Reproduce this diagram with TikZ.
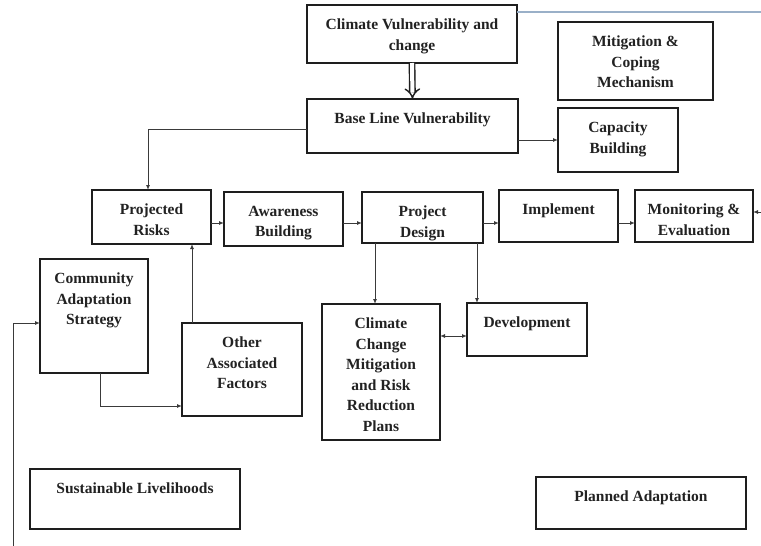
\documentclass[tikz,border=0pt]{standalone}
\usepackage{fontspec}
\setmainfont{Liberation Serif}
\usetikzlibrary{arrows.meta,fit}
\definecolor{boxcol}{HTML}{1E1E1E}
\definecolor{concol}{HTML}{3A3A3A}
\definecolor{txtcol}{HTML}{222222}
\definecolor{bluecol}{HTML}{9AB0C8}
\begin{document}
\begin{tikzpicture}[x=1pt,y=-1pt,
  box/.style={draw=boxcol, line width=2.6pt, inner sep=0pt, outer sep=0pt},
  lbl/.style={anchor=north, align=center, inner sep=0pt, text=txtcol, font=\bfseries\fontsize{15.5}{20.5}\selectfont},
  conn/.style={draw=concol, line width=1pt, -{Latex[length=5pt,width=4pt]}},
  bothconn/.style={draw=concol, line width=1pt, {Latex[length=5pt,width=4pt]}-{Latex[length=5pt,width=4pt]}},
  dblarrow/.style={draw=boxcol, line width=1.4pt, double=white, double distance=4pt, -{Implies}},
  blueline/.style={draw=bluecol, line width=1.5pt},
]
\fill[white] (0,0) rectangle (761,546);
\useasboundingbox (0,0) rectangle (761,546);

% boxes
\node[box, fit={(307,5) (517,63)}] (clim) {};
\node[box, fit={(558,22) (713,100)}] (mitig) {};
\node[box, fit={(307,99) (518,153)}] (base) {};
\node[box, fit={(558,108) (678,172)}] (cap) {};
\node[box, fit={(92,190) (211,244)}] (proj) {};
\node[box, fit={(224,192) (343,246)}] (aware) {};
\node[box, fit={(362,192) (483,243)}] (design) {};
\node[box, fit={(499,190) (618,242)}] (impl) {};
\node[box, fit={(635,190) (753,242)}] (monit) {};
\node[box, fit={(40,259) (148,373)}] (comm) {};
\node[box, fit={(182,323) (302,416)}] (other) {};
\node[box, fit={(322,304) (440,440)}] (ccm) {};
\node[box, fit={(467,303) (587,356)}] (dev) {};
\node[box, fit={(30,469) (240,529)}] (sust) {};
\node[box, fit={(536,477) (746,529)}] (plan) {};

% texts
\node[lbl] (climt) at ([yshift=-14pt]clim.north) {Climate Vulnerability and\\change};
\node[lbl] (mitigt) at ([yshift=-14pt]mitig.north) {Mitigation \&\\Coping\\Mechanism};
\node[lbl] (baset) at ([yshift=-14pt]base.north) {Base Line Vulnerability};
\node[lbl] (capt) at ([yshift=-14pt]cap.north) {Capacity\\Building};
\node[lbl] (projt) at ([yshift=-14pt]proj.north) {Projected\\Risks};
\node[lbl] (awaret) at ([yshift=-14pt]aware.north) {Awareness\\Building};
\node[lbl] (designt) at ([yshift=-14pt]design.north) {Project\\Design};
\node[lbl] (implt) at ([yshift=-14pt]impl.north) {Implement};
\node[lbl] (monitt) at ([yshift=-14pt]monit.north) {Monitoring \&\\Evaluation};
\node[lbl] (commt) at ([yshift=-14pt]comm.north) {Community\\Adaptation\\Strategy};
\node[lbl] (othert) at ([yshift=-14pt]other.north) {Other\\Associated\\Factors};
\node[lbl] (ccmt) at ([yshift=-14pt]ccm.north) {Climate\\Change\\Mitigation\\and Risk\\Reduction\\Plans};
\node[lbl] (devt) at ([yshift=-14pt]dev.north) {Development};
\node[lbl] (sustt) at ([yshift=-14pt]sust.north) {Sustainable Livelihoods};
\node[lbl] (plant) at ([yshift=-14pt]plan.north) {Planned Adaptation};

% free ends
\coordinate (tr) at (761,12);
\coordinate (mr) at (761,212);
\coordinate (bl) at (13,546);

% connectors
\draw[blueline] ([yshift=-7pt]clim.north east) -- (tr);
\draw[dblarrow] (clim.south) -- (base.north);
\draw[conn] ([yshift=-3pt]base.west) -| ([xshift=-3.5pt]proj.north);
\draw[conn] (base.east |- cap.west) -- (cap.west);
\draw[conn] ([yshift=-6pt]proj.east) -- ([yshift=-6pt]proj.east -| aware.west);
\draw[conn] ([yshift=-4pt]aware.east) -- ([yshift=-4pt]aware.east -| design.west);
\draw[conn] ([yshift=-5.5pt]design.east) -- ([yshift=-5.5pt]design.east -| impl.west);
\draw[conn] ([yshift=-7pt]impl.east) -- ([yshift=-7pt]impl.east -| monit.west);
\draw[conn] (mr) -- (mr -| monit.east);
\draw[conn] ([xshift=-6pt]ccm.north |- design.south) -- ([xshift=-6pt]ccm.north);
\draw[conn] ([xshift=-6pt]design.south east) -- ([xshift=-6pt]design.south east |- dev.north);
\draw[bothconn] ([yshift=-6.5pt]dev.west -| ccm.east) -- ([yshift=-6.5pt]dev.west);
\draw[conn] ([xshift=10pt]other.north west) -- ([xshift=10pt]other.north west |- proj.south);
\draw[conn] ([xshift=6pt]comm.south) |- ([yshift=-36.5pt]other.west);
\draw[conn] (bl) |- ([yshift=-7pt]comm.west);
\end{tikzpicture}
\end{document}
